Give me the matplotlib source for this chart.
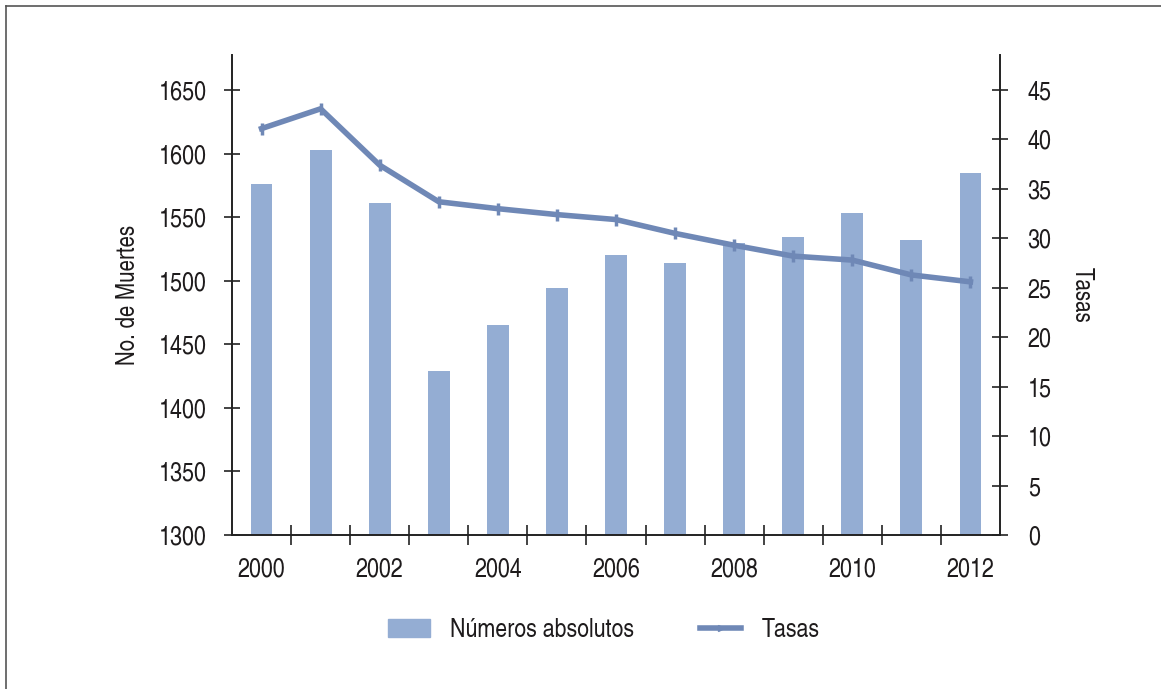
import matplotlib
matplotlib.use("Agg")
import matplotlib.pyplot as plt
from matplotlib.lines import Line2D
import numpy as np

plt.rcParams['font.family'] = ['TeX Gyre Heros Cn', 'Liberation Sans', 'DejaVu Sans']

years = [2000, 2001, 2002, 2003, 2004, 2005, 2006, 2007, 2008, 2009, 2010, 2011, 2012]
muertes = [1576, 1603, 1561, 1429, 1465, 1494, 1520, 1514, 1530, 1534, 1553, 1532, 1585]
tasas = [41.1, 43.1, 37.4, 33.7, 33.0, 32.4, 31.9, 30.5, 29.3, 28.2, 27.8, 26.3, 25.6]
year_labels = ['2000', '', '2002', '', '2004', '', '2006', '', '2008', '', '2010', '', '2012']

bar_color = '#94ADD3'
line_color = '#6F88B6'
axis_color = '#222222'
text_color = '#1E1B1C'
fs_tick = 19
fs_label = 18
fs_legend = 18.8

W, H = 1161, 689
fig = plt.figure(figsize=(W / 100, H / 100), dpi=100)

# thin frame around the figure (top and left edges)
fig.add_artist(Line2D([6 / W, 1], [1 - 6 / H, 1 - 6 / H], color='#555555', lw=1.2))
fig.add_artist(Line2D([6 / W, 6 / W], [0, 1 - 6 / H], color='#555555', lw=1.2))

ax = fig.add_axes([232 / W, (H - 535) / H, (1000 - 232) / W, (535 - 55) / H])
x = np.arange(len(years))

ax.bar(x, muertes, width=0.37, color=bar_color, zorder=2)
ax.set_xlim(-0.5, len(years) - 0.5)
ax.set_ylim(1300, 1677.5)
ax.set_yticks(np.arange(1300, 1651, 50))

ax.set_xticks(x)
ax.set_xticklabels(year_labels)
ax.set_xticks(x[:-1] + 0.5, minor=True)
ax.tick_params(axis='x', which='major', length=0, pad=16, labelsize=fs_tick, labelcolor=text_color)
ax.tick_params(axis='x', which='minor', direction='inout', length=14, width=1.2, color=axis_color)
ax.tick_params(axis='y', direction='inout', length=12, width=1.2, color=axis_color,
               pad=12, labelsize=fs_tick, labelcolor=text_color)

for s in ['top', 'right']:
    ax.spines[s].set_visible(False)
for s in ['left', 'bottom']:
    ax.spines[s].set_color(axis_color)
    ax.spines[s].set_linewidth(1.4)

ax.set_ylabel('No. de Muertes', fontsize=fs_label, color=text_color, labelpad=14)

ax2 = ax.twinx()
ax2.plot(x, tasas, color=line_color, lw=4, marker='|', markersize=9, markeredgewidth=2.5,
         solid_joinstyle='round', zorder=3)
ax2.set_ylim(0, 48.54)
ax2.set_yticks(np.arange(0, 46, 5))
ax2.tick_params(axis='y', direction='inout', length=12, width=1.2, color=axis_color,
                pad=14, labelsize=fs_tick, labelcolor=text_color)
for s in ['top', 'left', 'bottom']:
    ax2.spines[s].set_visible(False)
ax2.spines['right'].set_color(axis_color)
ax2.spines['right'].set_linewidth(1.4)
ax2.set_ylabel('Tasas', fontsize=fs_label, color=text_color, rotation=270, labelpad=30)

handles = [
    plt.Rectangle((0, 0), 1, 1, color=bar_color),
    Line2D([0], [0], color=line_color, lw=4, marker='>', markersize=4),
]
fig.legend(handles, ['Números absolutos', 'Tasas'], loc='center', ncol=2,
           bbox_to_anchor=(604 / W, 1 - 630 / H), frameon=False, fontsize=fs_legend,
           handlelength=1.6, handletextpad=0.78, columnspacing=2.5,
           labelcolor=text_color, numpoints=1)

fig.savefig('out.png', dpi=100)
